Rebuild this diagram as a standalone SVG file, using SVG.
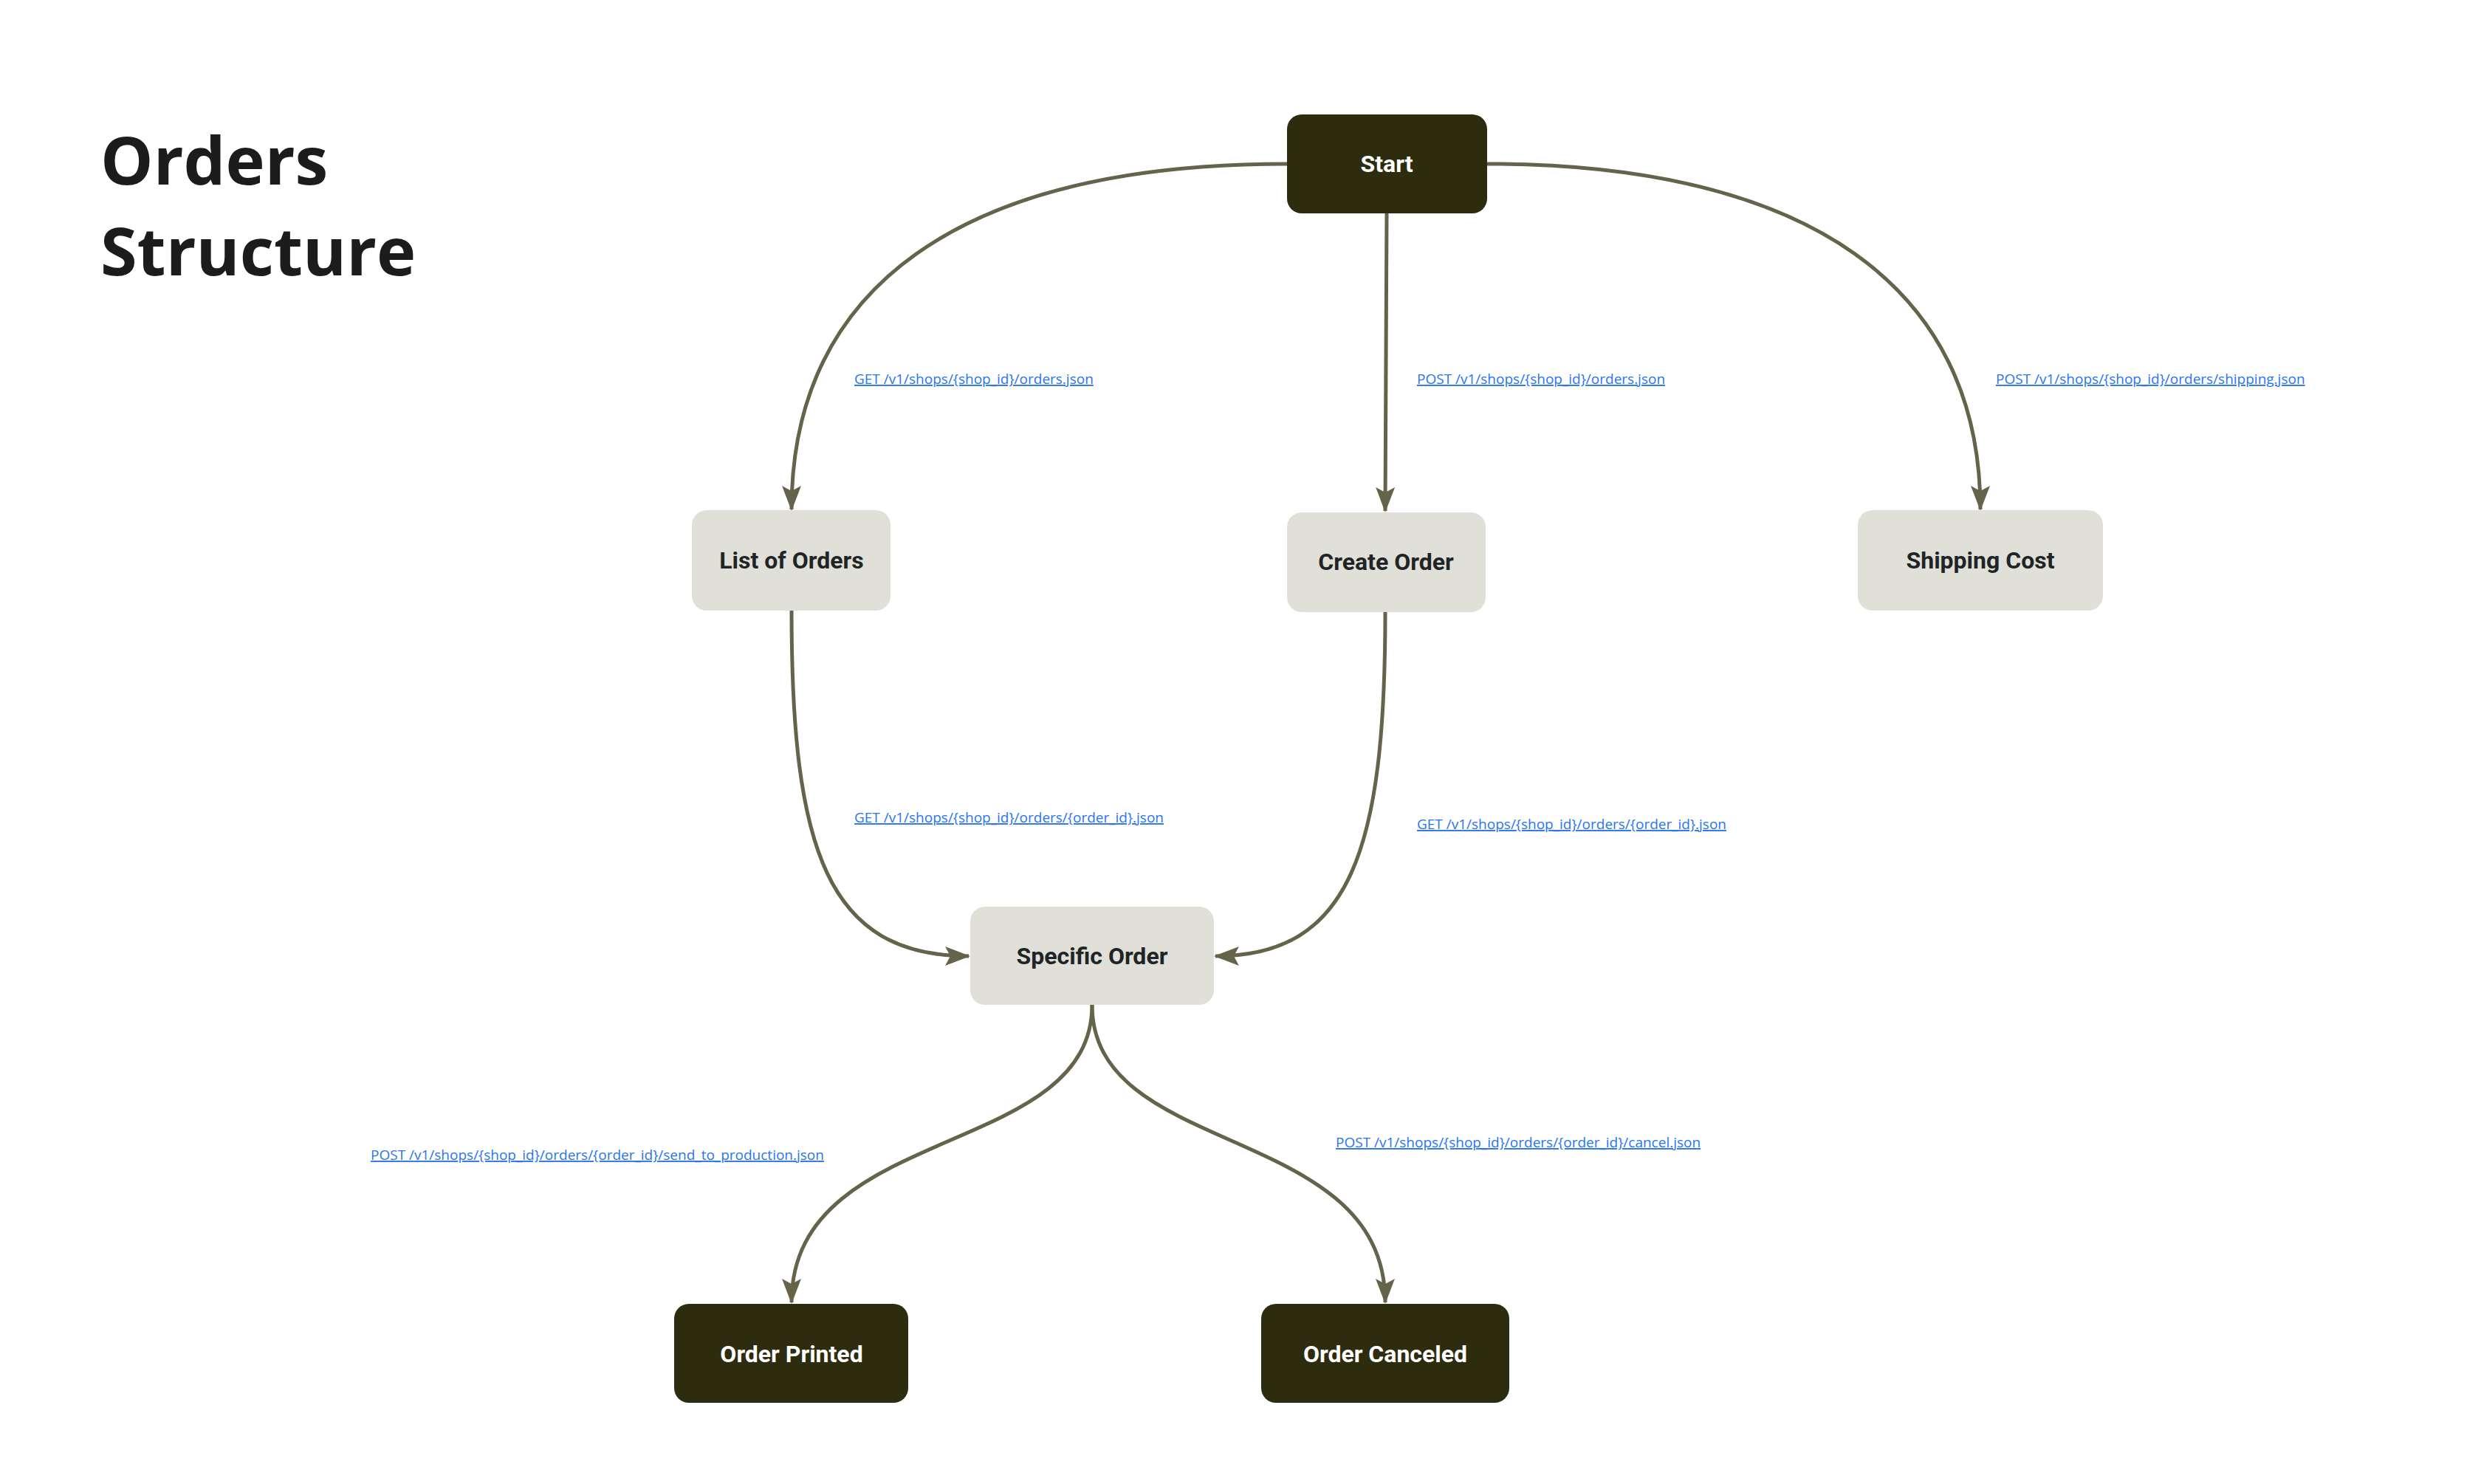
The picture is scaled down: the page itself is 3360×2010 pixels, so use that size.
<svg xmlns="http://www.w3.org/2000/svg" width="3360" height="2010" viewBox="0 0 3360 2010">
<style>
.dark rect{fill:#2e2c0f}
.light rect{fill:#e0e0d8}
.dark text{fill:#fff;font-family:Roboto,"Liberation Sans",sans-serif;font-weight:bold;font-size:32px;text-anchor:middle}
.light text{fill:#1f2426;font-family:Roboto,"Liberation Sans",sans-serif;font-weight:bold;font-size:32px;text-anchor:middle}
.lbl{fill:#2a74f0;font-family:"Open Sans","Liberation Sans",sans-serif;font-size:19px;text-decoration:underline}
.title{fill:#1c1c1c;font-family:"Open Sans","Noto Sans",sans-serif;font-weight:bold;font-size:90px}
#edges path{fill:none;stroke:#656349;stroke-width:5;marker-end:url(#ah)}
</style>
<defs>
<marker id="ah" markerUnits="userSpaceOnUse" markerWidth="34" markerHeight="30" refX="32" refY="15" orient="auto">
<path d="M0,2 L34,15 L0,28 L7,15 Z" fill="#656349"/>
</marker>
</defs>
<rect width="3360" height="2010" fill="#fff"/>
<text class="title" x="136" y="250">Orders</text>
<text class="title" x="136" y="373">Structure</text>
<g id="edges">
<path d="M1743,222 C1300,222 1072,390 1072,690"/>
<path d="M1878,289 L1876,692"/>
<path d="M2014,222 C2450,222 2682,390 2682,690"/>
<path d="M1072,827 C1072,1150 1120,1295 1312,1295"/>
<path d="M1876,829 C1876,1150 1830,1295 1646,1295"/>
<path d="M1479,1361 C1479,1570 1072,1520 1072,1764"/>
<path d="M1479,1361 C1479,1570 1876,1520 1876,1764"/>
</g>
<g id="labels">
<text class="lbl" x="1157" y="520">GET /v1/shops/{shop_id}/orders.json</text>
<text class="lbl" x="1919" y="520">POST /v1/shops/{shop_id}/orders.json</text>
<text class="lbl" x="2703" y="520">POST /v1/shops/{shop_id}/orders/shipping.json</text>
<text class="lbl" x="1157" y="1114">GET /v1/shops/{shop_id}/orders/{order_id}.json</text>
<text class="lbl" x="1919" y="1123">GET /v1/shops/{shop_id}/orders/{order_id}.json</text>
<text class="lbl" x="502" y="1571">POST /v1/shops/{shop_id}/orders/{order_id}/send_to_production.json</text>
<text class="lbl" x="1809" y="1554">POST /v1/shops/{shop_id}/orders/{order_id}/cancel.json</text>
</g>
<g id="start" class="dark"><rect x="1743" y="155" width="271" height="134" rx="20"/><text x="1878" y="233">Start</text></g>
<g id="list" class="light"><rect x="937" y="691" width="269" height="136" rx="20"/><text x="1072" y="770">List of Orders</text></g>
<g id="create" class="light"><rect x="1743" y="694" width="269" height="135" rx="20"/><text x="1877" y="772">Create Order</text></g>
<g id="shipping" class="light"><rect x="2516" y="691" width="332" height="136" rx="20"/><text x="2682" y="770">Shipping Cost</text></g>
<g id="specific" class="light"><rect x="1314" y="1228" width="330" height="133" rx="20"/><text x="1479" y="1306">Specific Order</text></g>
<g id="printed" class="dark"><rect x="913" y="1766" width="317" height="134" rx="20"/><text x="1072" y="1845">Order Printed</text></g>
<g id="canceled" class="dark"><rect x="1708" y="1766" width="336" height="134" rx="20"/><text x="1876" y="1845">Order Canceled</text></g>
</svg>
